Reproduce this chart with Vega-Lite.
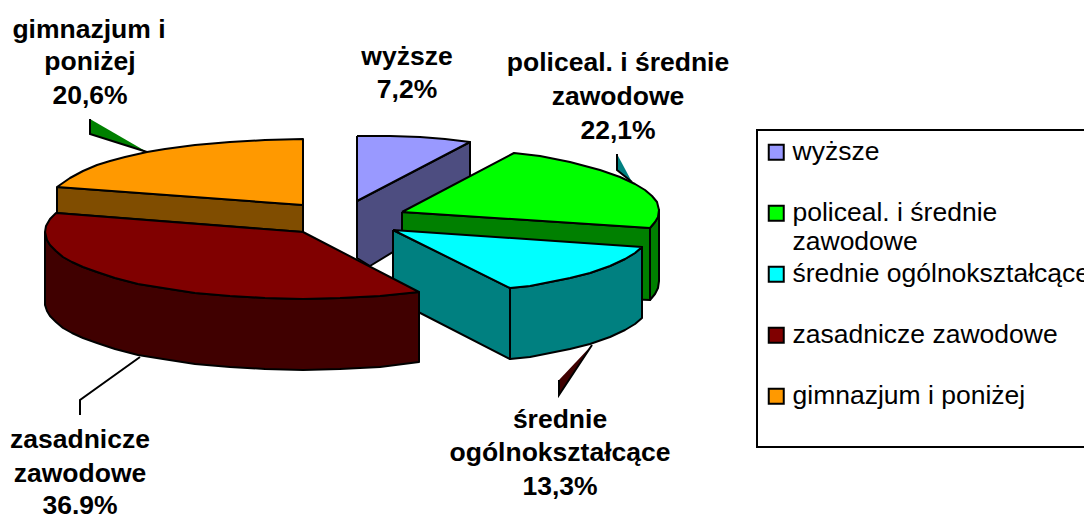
{
"$schema":"https://vega.github.io/schema/vega-lite/v6.json",
"width":1084,"height":517,"padding":0,"autosize":{"type":"none"},
"background":"white",
"view":{"stroke":null},
"datasets":{
"box":[{"x":757,"x2":1110,"y":130,"y2":447}],
"parts":[
{"part":"L1","kind":"policeal. i średnie zawodowe (bok)"},{"part":"L2","kind":"średnie ogólnokształcące (bok)"},{"part":"L3","kind":"zasadnicze zawodowe (bok)"},
{"part":"a1","kind":"wyższe (bok)"},{"part":"a2","kind":"wyższe"},
{"part":"b1","kind":"policeal. i średnie zawodowe (bok)"},{"part":"b2","kind":"policeal. i średnie zawodowe (bok)"},{"part":"b3","kind":"policeal. i średnie zawodowe"},
{"part":"c1","kind":"średnie ogólnokształcące (bok)"},{"part":"c2","kind":"średnie ogólnokształcące (bok)"},{"part":"c3","kind":"średnie ogólnokształcące"},
{"part":"e1","kind":"gimnazjum i poniżej (bok)"},{"part":"e2","kind":"gimnazjum i poniżej"},
{"part":"d1","kind":"zasadnicze zawodowe (bok)"},{"part":"d2","kind":"zasadnicze zawodowe"}
],
"leaders":[
{"part":"L1","n":1,"x":90,"y":119},{"part":"L1","n":2,"x":90,"y":134},{"part":"L1","n":3,"x":147,"y":152},{"part":"L1","n":4,"x":90,"y":119},
{"part":"L2","n":1,"x":617,"y":154},{"part":"L2","n":2,"x":617,"y":170},{"part":"L2","n":3,"x":632,"y":182},{"part":"L2","n":4,"x":617,"y":154},
{"part":"L3","n":1,"x":592,"y":345},{"part":"L3","n":2,"x":559,"y":380},{"part":"L3","n":3,"x":559,"y":395},{"part":"L3","n":4,"x":592,"y":345}
],
"edges":[
{"part":"E1","n":1,"x":90,"y":119},{"part":"E1","n":2,"x":90,"y":134},{"part":"E1","n":3,"x":147,"y":152},
{"part":"E2","n":1,"x":617,"y":154},{"part":"E2","n":2,"x":617,"y":170},{"part":"E2","n":3,"x":632,"y":182},
{"part":"E3","n":1,"x":559,"y":380},{"part":"E3","n":2,"x":559,"y":395},{"part":"E3","n":3,"x":592,"y":345},
{"part":"E4","n":1,"x":140,"y":357},{"part":"E4","n":2,"x":80,"y":400},{"part":"E4","n":3,"x":80,"y":415}
],
"faces":[
{"part":"a1","n":1,"x":357,"y":201},{"part":"a1","n":2,"x":470,"y":142},{"part":"a1","n":3,"x":470,"y":205},{"part":"a1","n":4,"x":370,"y":266},{"part":"a1","n":5,"x":357,"y":258},{"part":"a1","n":6,"x":357,"y":201},
{"part":"a2","n":1,"x":357,"y":136},{"part":"a2","n":2,"x":390,"y":136},{"part":"a2","n":3,"x":420,"y":137},{"part":"a2","n":4,"x":445,"y":139},{"part":"a2","n":5,"x":470,"y":142},{"part":"a2","n":6,"x":357,"y":201},{"part":"a2","n":7,"x":357,"y":136},
{"part":"b1","n":1,"x":402,"y":212},{"part":"b1","n":2,"x":650,"y":228},{"part":"b1","n":3,"x":650,"y":300},{"part":"b1","n":4,"x":402,"y":290},{"part":"b1","n":5,"x":402,"y":212},
{"part":"b2","n":1,"x":650,"y":228},{"part":"b2","n":2,"x":655,"y":222},{"part":"b2","n":3,"x":658,"y":217},{"part":"b2","n":4,"x":659,"y":210},{"part":"b2","n":5,"x":659,"y":281},{"part":"b2","n":6,"x":658,"y":288},{"part":"b2","n":7,"x":655,"y":294},{"part":"b2","n":8,"x":650,"y":300},{"part":"b2","n":9,"x":650,"y":228},
{"part":"b3","n":1,"x":402,"y":212},{"part":"b3","n":2,"x":514,"y":153},{"part":"b3","n":3,"x":540,"y":156},{"part":"b3","n":4,"x":570,"y":162},{"part":"b3","n":5,"x":600,"y":170},{"part":"b3","n":6,"x":620,"y":177},{"part":"b3","n":7,"x":635,"y":184},{"part":"b3","n":8,"x":645,"y":190},{"part":"b3","n":9,"x":652,"y":196},{"part":"b3","n":10,"x":657,"y":202},{"part":"b3","n":11,"x":659,"y":210},{"part":"b3","n":12,"x":658,"y":217},{"part":"b3","n":13,"x":655,"y":222},{"part":"b3","n":14,"x":650,"y":228},{"part":"b3","n":15,"x":402,"y":212},
{"part":"c1","n":1,"x":393,"y":230},{"part":"c1","n":2,"x":510,"y":288},{"part":"c1","n":3,"x":510,"y":359},{"part":"c1","n":4,"x":393,"y":299},{"part":"c1","n":5,"x":393,"y":230},
{"part":"c2","n":1,"x":510,"y":288},{"part":"c2","n":2,"x":530,"y":286},{"part":"c2","n":3,"x":550,"y":282},{"part":"c2","n":4,"x":570,"y":278},{"part":"c2","n":5,"x":590,"y":273},{"part":"c2","n":6,"x":610,"y":266},{"part":"c2","n":7,"x":625,"y":259},{"part":"c2","n":8,"x":635,"y":253},{"part":"c2","n":9,"x":642,"y":247},{"part":"c2","n":10,"x":642,"y":318},{"part":"c2","n":11,"x":635,"y":324},{"part":"c2","n":12,"x":625,"y":330},{"part":"c2","n":13,"x":610,"y":337},{"part":"c2","n":14,"x":590,"y":344},{"part":"c2","n":15,"x":570,"y":349},{"part":"c2","n":16,"x":550,"y":353},{"part":"c2","n":17,"x":530,"y":357},{"part":"c2","n":18,"x":510,"y":359},{"part":"c2","n":19,"x":510,"y":288},
{"part":"c3","n":1,"x":393,"y":230},{"part":"c3","n":2,"x":642,"y":247},{"part":"c3","n":3,"x":635,"y":253},{"part":"c3","n":4,"x":625,"y":259},{"part":"c3","n":5,"x":610,"y":266},{"part":"c3","n":6,"x":590,"y":273},{"part":"c3","n":7,"x":570,"y":278},{"part":"c3","n":8,"x":550,"y":282},{"part":"c3","n":9,"x":530,"y":286},{"part":"c3","n":10,"x":510,"y":288},{"part":"c3","n":11,"x":393,"y":230},
{"part":"e1","n":1,"x":57,"y":187},{"part":"e1","n":2,"x":303,"y":205},{"part":"e1","n":3,"x":303,"y":232},{"part":"e1","n":4,"x":57,"y":213},{"part":"e1","n":5,"x":57,"y":187},
{"part":"e2","n":1,"x":303,"y":205},{"part":"e2","n":2,"x":303,"y":139},{"part":"e2","n":3,"x":265,"y":140},{"part":"e2","n":4,"x":230,"y":142},{"part":"e2","n":5,"x":195,"y":145},{"part":"e2","n":6,"x":165,"y":149},{"part":"e2","n":7,"x":147,"y":152},{"part":"e2","n":8,"x":125,"y":157},{"part":"e2","n":9,"x":110,"y":161},{"part":"e2","n":10,"x":97,"y":165},{"part":"e2","n":11,"x":83,"y":171},{"part":"e2","n":12,"x":70,"y":178},{"part":"e2","n":13,"x":57,"y":187},{"part":"e2","n":14,"x":303,"y":205},
{"part":"d1","n":1,"x":45,"y":232},{"part":"d1","n":2,"x":47,"y":240},{"part":"d1","n":3,"x":50,"y":245},{"part":"d1","n":4,"x":56,"y":251},{"part":"d1","n":5,"x":63,"y":257},{"part":"d1","n":6,"x":72,"y":262},{"part":"d1","n":7,"x":83,"y":267},{"part":"d1","n":8,"x":97,"y":272},{"part":"d1","n":9,"x":115,"y":278},{"part":"d1","n":10,"x":138,"y":284},{"part":"d1","n":11,"x":163,"y":288},{"part":"d1","n":12,"x":195,"y":293},{"part":"d1","n":13,"x":230,"y":296},{"part":"d1","n":14,"x":265,"y":298},{"part":"d1","n":15,"x":303,"y":299},{"part":"d1","n":16,"x":340,"y":298},{"part":"d1","n":17,"x":380,"y":296},{"part":"d1","n":18,"x":419,"y":292},
{"part":"d1","n":19,"x":419,"y":362},{"part":"d1","n":20,"x":380,"y":367},{"part":"d1","n":21,"x":340,"y":369},{"part":"d1","n":22,"x":303,"y":370},{"part":"d1","n":23,"x":265,"y":369},{"part":"d1","n":24,"x":230,"y":367},{"part":"d1","n":25,"x":195,"y":364},{"part":"d1","n":26,"x":163,"y":359},{"part":"d1","n":27,"x":138,"y":355},{"part":"d1","n":28,"x":115,"y":349},{"part":"d1","n":29,"x":97,"y":343},{"part":"d1","n":30,"x":83,"y":338},{"part":"d1","n":31,"x":72,"y":333},{"part":"d1","n":32,"x":63,"y":328},{"part":"d1","n":33,"x":56,"y":322},{"part":"d1","n":34,"x":50,"y":316},{"part":"d1","n":35,"x":47,"y":311},{"part":"d1","n":36,"x":45,"y":305},{"part":"d1","n":37,"x":45,"y":232},
{"part":"d2","n":1,"x":303,"y":232},{"part":"d2","n":2,"x":56,"y":213},{"part":"d2","n":3,"x":50,"y":219},{"part":"d2","n":4,"x":46,"y":226},{"part":"d2","n":5,"x":45,"y":232},{"part":"d2","n":6,"x":47,"y":240},{"part":"d2","n":7,"x":50,"y":245},{"part":"d2","n":8,"x":56,"y":251},{"part":"d2","n":9,"x":63,"y":257},{"part":"d2","n":10,"x":72,"y":262},{"part":"d2","n":11,"x":83,"y":267},{"part":"d2","n":12,"x":97,"y":272},{"part":"d2","n":13,"x":115,"y":278},{"part":"d2","n":14,"x":138,"y":284},{"part":"d2","n":15,"x":163,"y":288},{"part":"d2","n":16,"x":195,"y":293},{"part":"d2","n":17,"x":230,"y":296},{"part":"d2","n":18,"x":265,"y":298},{"part":"d2","n":19,"x":303,"y":299},{"part":"d2","n":20,"x":340,"y":298},{"part":"d2","n":21,"x":380,"y":296},{"part":"d2","n":22,"x":419,"y":292},{"part":"d2","n":23,"x":303,"y":232}
],
"labels":[
{"t":"gimnazjum i","x":89,"y":30},{"t":"poniżej","x":90,"y":62},{"t":"20,6%","x":90,"y":96},
{"t":"wyższe","x":407,"y":57},{"t":"7,2%","x":407,"y":90},
{"t":"policeal. i średnie","x":618,"y":63},{"t":"zawodowe","x":618,"y":97},{"t":"22,1%","x":618,"y":131},
{"t":"średnie","x":560,"y":420},{"t":"ogólnokształcące","x":560,"y":453},{"t":"13,3%","x":560,"y":487},
{"t":"zasadnicze","x":80,"y":440},{"t":"zawodowe","x":80,"y":474},{"t":"36.9%","x":80,"y":506}
]
},
"layer":[
{"data":{"name":"box"},"mark":{"type":"rect","fill":null,"stroke":"black","strokeWidth":2},
"encoding":{"x":{"field":"x","type":"quantitative"},"x2":{"field":"x2"},"y":{"field":"y","type":"quantitative"},"y2":{"field":"y2"}}},
{"data":{"name":"leaders"},"transform":[{"lookup":"part","from":{"data":{"name":"parts"},"key":"part","fields":["kind"]}}],"mark":{"type":"line","strokeWidth":0},
"encoding":{"x":{"field":"x","type":"quantitative"},"y":{"field":"y","type":"quantitative"},"order":{"field":"n"},"detail":{"field":"part"},"fill":{"field":"kind","type":"nominal"}}},
{"data":{"name":"edges"},"mark":{"type":"line","stroke":"black","strokeWidth":2},
"encoding":{"x":{"field":"x","type":"quantitative"},"y":{"field":"y","type":"quantitative"},"order":{"field":"n"},"detail":{"field":"part"}}},
{"data":{"name":"faces"},"transform":[{"lookup":"part","from":{"data":{"name":"parts"},"key":"part","fields":["kind"]}}],"mark":{"type":"line","stroke":"black","strokeWidth":2,"strokeJoin":"round"},
"encoding":{"x":{"field":"x","type":"quantitative"},"y":{"field":"y","type":"quantitative"},"order":{"field":"n"},"detail":{"field":"part"},"fill":{"field":"kind","type":"nominal"}}},
{"data":{"name":"labels"},"mark":{"type":"text","font":"Liberation Sans","fontSize":26.5,"fontWeight":"bold","align":"center","baseline":"middle","color":"black"},
"encoding":{"x":{"field":"x","type":"quantitative"},"y":{"field":"y","type":"quantitative"},"text":{"field":"t"}}}
],
"encoding":{
"x":{"scale":{"domain":[0,1084],"nice":false,"zero":false},"axis":null},
"y":{"scale":{"domain":[517,0],"nice":false,"zero":false},"axis":null},
"fill":{"scale":{"domain":["wyższe","policeal. i średnie zawodowe","średnie ogólnokształcące","zasadnicze zawodowe","gimnazjum i poniżej","wyższe (bok)","policeal. i średnie zawodowe (bok)","średnie ogólnokształcące (bok)","zasadnicze zawodowe (bok)","gimnazjum i poniżej (bok)"],
"range":["#9999ff","#00ff00","#00ffff","#800000","#ff9900","#4d4d80","#008000","#008080","#400000","#804d00"]},
"legend":{"values":["wyższe","policeal. i średnie zawodowe","średnie ogólnokształcące","zasadnicze zawodowe","gimnazjum i poniżej"],"title":null,"orient":"none","legendX":763,"legendY":139,"padding":0,"symbolType":"square","symbolSize":225,"symbolStrokeColor":"black","symbolStrokeWidth":2,"labelFont":"Liberation Sans","labelFontSize":26.5,"labelLimit":500,"labelColor":"black","rowPadding":5,"labelOffset":3,
"labelExpr":"datum.label === 'policeal. i średnie zawodowe' ? ['policeal. i średnie','zawodowe'] : [datum.label,' ']"}
}
}
}
